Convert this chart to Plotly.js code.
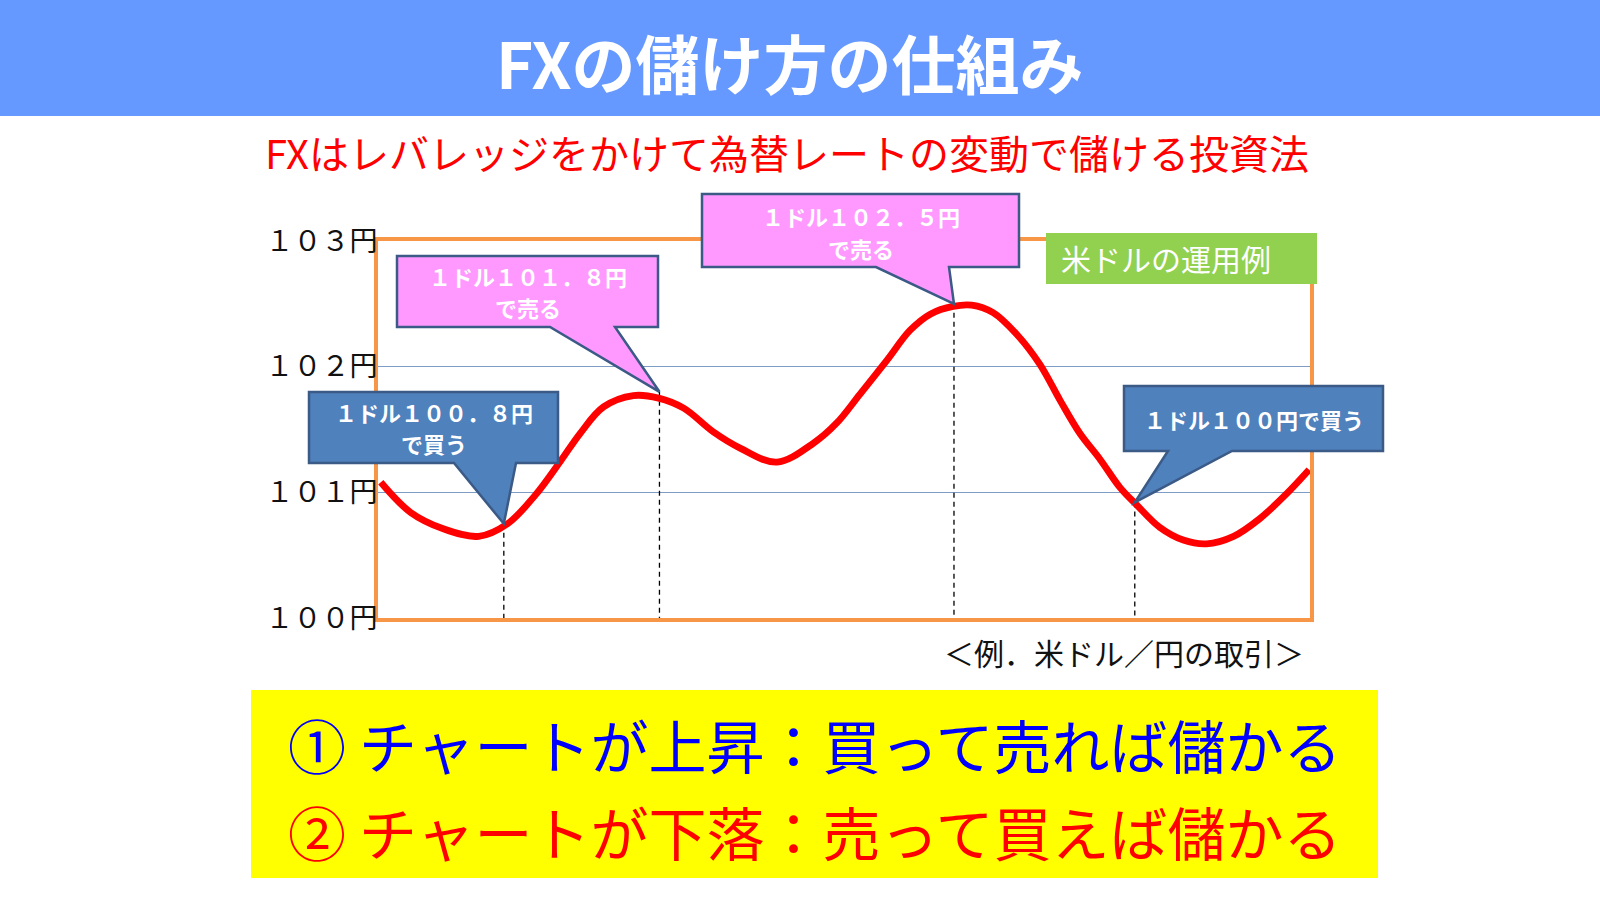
<!DOCTYPE html>
<html><head><meta charset="utf-8">
<script src="https://cdn.plot.ly/plotly-3.0.1.min.js"></script>
<style>html,body{margin:0;padding:0;background:#fff;}#chart{width:1600px;height:900px;}</style>
</head><body><div id="chart"></div>
<script>
// ---------------- data ----------------
const priceX = [0.3, 3.5, 7.0, 10.8, 13.9, 16.9, 19.6, 21.7, 24.2, 27.4, 30.1, 32.8, 36.0, 38.9, 42.8, 46.7, 49.2, 51.7, 54.6, 57.1, 59.3, 61.7, 63.7, 66.0, 68.5, 71.0, 73.2, 75.3, 77.5, 79.6, 81.4, 83.9, 86.4, 88.9, 91.8, 94.6, 97.5, 99.9];
const priceY = [101.08, 100.84, 100.71, 100.65, 100.75, 100.98, 101.25, 101.47, 101.68, 101.77, 101.75, 101.67, 101.48, 101.35, 101.24, 101.39, 101.55, 101.78, 102.05, 102.29, 102.42, 102.48, 102.49, 102.43, 102.26, 102.02, 101.73, 101.47, 101.26, 101.04, 100.90, 100.72, 100.62, 100.59, 100.65, 100.79, 100.99, 101.18];
const tradeX = [13.5, 30.2, 61.8, 81.2];
const tradeY = [100.75, 101.8, 102.5, 100.92];
const tradeKind = ["buy", "sell", "sell", "buy"];
const tradeLabels = [["１ドル１００．８円", "で買う"], ["１ドル１０１．８円", "で売る"], ["１ドル１０２．５円", "で売る"], ["１ドル１００円で買う"]];
const yTickVals = [100, 101, 102, 103];
const yTickText = ["１００円", "１０１円", "１０２円", "１０３円"];
const titleText = "FXの儲け方の仕組み";
const subtitleText = "FXはレバレッジをかけて為替レートの変動で儲ける投資法";
const legendText = "米ドルの運用例";
const noteText = "＜例．米ドル／円の取引＞";
const ruleLines = ["① チャートが上昇：買って売れば儲かる", "② チャートが下落：売って買えば儲かる"];
const ruleColors = ["#0000FF", "#FF0000"];

// ---------------- geometry ----------------
const W = 1600, H = 900, L = 378, R = 290, T = 241, B = 282;
const PW = W - L - R, PH = H - T - B;
const xRange = [0, 100], yRange = [100, 103];
const FONT = "Noto Sans CJK JP";
function pxX(px) { return (px - L) / PW; }
function pxY(py) { return (H - B - py) / PH; }
function dX(x) { return (x - xRange[0]) / (xRange[1] - xRange[0]); }
function dY(y) { return (y - yRange[0]) / (yRange[1] - yRange[0]); }

// callout boxes (pixel layout) in the same order as the trades; ly = text line centres
const boxes = [
  {x0: 309, x1: 558, y0: 392, y1: 463, b0: 454, b1: 516, ly: [412, 443]},
  {x0: 397, x1: 658, y0: 256, y1: 327, b0: 550, b1: 615, ly: [276, 307]},
  {x0: 702, x1: 1019, y0: 194, y1: 267, b0: 876, b1: 949, ly: [216, 248]},
  {x0: 1124, x1: 1383, y0: 386, y1: 451, b0: 1168, b1: 1232, ly: [419]}
];

const traces = [];
// dashed verticals
tradeX.forEach((x, i) => {
  traces.push({x: [x, x], y: [tradeY[i], yRange[0]], mode: "lines", type: "scatter",
    line: {color: "#000", width: 1.3, dash: "5px,4px"}, hoverinfo: "skip", showlegend: false});
});
traces.push({x: priceX, y: priceY, mode: "lines", type: "scatter",
  line: {color: "#FF0000", width: 6.8, shape: "spline", smoothing: 1}, hoverinfo: "skip", showlegend: false});

const shapes = [];
// top banner
shapes.push({type: "rect", xref: "paper", yref: "paper", x0: pxX(0), x1: pxX(1600), y0: pxY(0), y1: pxY(116),
  fillcolor: "#6699FF", line: {width: 0}, layer: "below"});
// bottom yellow box
shapes.push({type: "rect", xref: "paper", yref: "paper", x0: pxX(251), x1: pxX(1378), y0: pxY(690), y1: pxY(878),
  fillcolor: "#FFFF00", line: {width: 0}, layer: "below"});
// green label
shapes.push({type: "rect", xref: "paper", yref: "paper", x0: pxX(1046), x1: pxX(1317), y0: pxY(233), y1: pxY(284),
  fillcolor: "#92D050", line: {width: 0}, layer: "above"});

const annotations = [];
// callouts
boxes.forEach((bx, i) => {
  const tipX = dX(tradeX[i]), tipY = dY(tradeY[i]);
  const yb = pxY(bx.y1), yt = pxY(bx.y0);
  const path = `M ${pxX(bx.x0)},${yb} L ${pxX(bx.b0)},${yb} L ${tipX},${tipY} L ${pxX(bx.b1)},${yb} L ${pxX(bx.x1)},${yb} L ${pxX(bx.x1)},${yt} L ${pxX(bx.x0)},${yt} Z`;
  shapes.push({type: "path", xref: "paper", yref: "paper", path: path,
    fillcolor: tradeKind[i] === "buy" ? "#4F81BD" : "#FF99FF",
    line: {color: "#3B5A86", width: 2.5}, layer: "above"});
  tradeLabels[i].forEach((line, j) => {
    annotations.push({xref: "paper", yref: "paper", x: pxX((bx.x0 + bx.x1) / 2), y: pxY(bx.ly[j]),
      text: "<b>" + line + "</b>", showarrow: false, xanchor: "center", yanchor: "middle", align: "center",
      borderpad: 0, font: {family: FONT, size: 22, color: "#FFFFFF"}});
  });
});

annotations.push({xref: "paper", yref: "paper", x: pxX(790), y: pxY(61), text: "<b>" + titleText + "</b>",
  showarrow: false, xanchor: "center", yanchor: "middle", font: {family: FONT, size: 64, color: "#FFFFFF"}});
annotations.push({xref: "paper", yref: "paper", x: pxX(787), y: pxY(152), text: subtitleText,
  showarrow: false, xanchor: "center", yanchor: "middle", font: {family: FONT, size: 40, color: "#FF0000"}});
annotations.push({xref: "paper", yref: "paper", x: pxX(1059), y: pxY(258), text: legendText,
  showarrow: false, xanchor: "left", yanchor: "middle", font: {family: FONT, size: 30, color: "#FFFFFF"}});
annotations.push({xref: "paper", yref: "paper", x: pxX(1306), y: pxY(652), text: noteText,
  showarrow: false, xanchor: "right", yanchor: "middle", font: {family: FONT, size: 30, color: "#111111"}});
ruleLines.forEach((t, i) => {
  annotations.push({xref: "paper", yref: "paper", x: pxX(286), y: pxY(i === 0 ? 744 : 831), text: t,
    showarrow: false, xanchor: "left", yanchor: "middle", font: {family: FONT, size: 58, color: ruleColors[i]}});
});

const layout = {
  width: W, height: H, margin: {l: L, r: R, t: T, b: B, pad: 0},
  paper_bgcolor: "#FFFFFF", plot_bgcolor: "#FFFFFF", showlegend: false,
  xaxis: {range: xRange, showgrid: false, zeroline: false, showticklabels: false, ticks: "",
    showline: true, mirror: true, linecolor: "#F79646", linewidth: 4, fixedrange: true},
  yaxis: {range: yRange, tickvals: yTickVals, ticktext: yTickText, showgrid: true, gridcolor: "#7F9CC4", gridwidth: 1.2,
    zeroline: false, ticks: "", showline: true, mirror: true, linecolor: "#F79646", linewidth: 4,
    tickfont: {family: FONT, size: 28, color: "#111111"}, ticklabelstandoff: -9, fixedrange: true},
  shapes: shapes, annotations: annotations, font: {family: FONT}
};
Plotly.newPlot("chart", traces, layout, {staticPlot: true, displayModeBar: false});
</script></body></html>
